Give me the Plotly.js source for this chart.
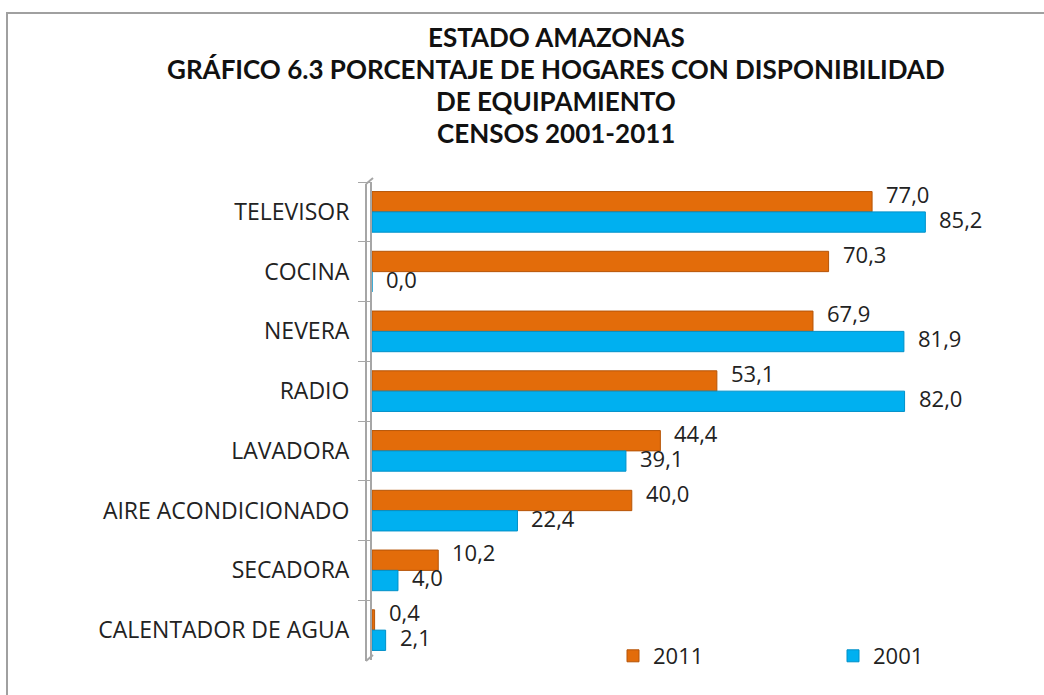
<!DOCTYPE html>
<html>
<head>
<meta charset="utf-8">
<script src="https://cdn.plot.ly/plotly-3.0.1.min.js"></script>
<style>
html,body{margin:0;padding:0;background:#fff;}
#frame{position:absolute;left:6px;top:12px;width:1100px;height:720px;border-left:2px solid #a0a0a0;border-top:2px solid #a0a0a0;box-sizing:border-box;pointer-events:none;z-index:5;}
#chart{width:1044px;height:695px;}
</style>
</head>
<body>
<div id="frame"></div>
<div id="chart"></div>
<script>
const categories = ["TELEVISOR","COCINA","NEVERA","RADIO","LAVADORA","AIRE ACONDICIONADO","SECADORA","CALENTADOR DE AGUA"];
const values2011 = [77.0, 70.3, 67.9, 53.1, 44.4, 40.0, 10.2, 0.4];
const values2001 = [85.2, 0.0, 81.9, 82.0, 39.1, 22.4, 4.0, 2.1];
const seriesNames = ["2011","2001"];
const titleLines = ["ESTADO AMAZONAS","GRÁFICO 6.3 PORCENTAJE DE HOGARES CON DISPONIBILIDAD","DE EQUIPAMIENTO","CENSOS 2001-2011"];

const fmt = v => v.toFixed(1).replace(".", ",");
const FONT = "'Open Sans', Lato, sans-serif";
const TFONT = "Lato, 'Open Sans', sans-serif";

const traces = [
  {type:"bar", orientation:"h", name:seriesNames[0], legend:"legend", y:categories, x:values2011,
   marker:{color:"#E36C0A", line:{color:"#B65508", width:1}}},
  {type:"bar", orientation:"h", name:seriesNames[1], legend:"legend2", y:categories, x:values2001,
   marker:{color:"#00B0F0", line:{color:"#0090C8", width:1}}}
];

const M = {l:372, r:55, t:182, b:35};
const W = 1044, H = 695, PW = W - M.l - M.r, PH = H - M.t - M.b;
const px = p => (p - M.l) / PW;
const py = p => (H - M.b - p) / PH;
const titleY = [37, 69, 101, 133];

const annotations = titleLines.map((t, i) => ({
  text:"<b>" + t + "</b>", xref:"paper", yref:"paper",
  x:px(556), y:py(titleY[i]), xanchor:"center", yanchor:"middle",
  showarrow:false, font:{family:TFONT, size:26, color:"#111"}
}));

// data labels, placed from the data arrays
const labelSets = [[values2011, 18], [values2001, -7]];
labelSets.forEach(([vals, dy]) => {
  vals.forEach((v, i) => {
    annotations.push({
      text:fmt(v), xref:"x", yref:"y", x:v, y:categories[i],
      xanchor:"left", yanchor:"middle", xshift:12, yshift:dy,
      showarrow:false, font:{family:FONT, size:22, color:"#222"}
    });
  });
});

const legendBase = {orientation:"h", xanchor:"left", yanchor:"middle", y:py(656),
  font:{family:FONT, size:22, color:"#222"}, itemwidth:30, bgcolor:"rgba(0,0,0,0)"};

const wallColor = "#a6a6a6";
const shapes = [
  {type:"line", xref:"paper", yref:"paper", x0:px(366), x1:px(366), y0:py(661), y1:py(184), line:{color:wallColor, width:2}, layer:"above"},
  {type:"line", xref:"paper", yref:"paper", x0:px(366), x1:px(373), y0:py(184), y1:py(178), line:{color:wallColor, width:2}, layer:"above"},
  {type:"line", xref:"paper", yref:"paper", x0:px(366), x1:px(373), y0:py(661), y1:py(655), line:{color:wallColor, width:2}, layer:"above"}
];

const layout = {
  width:W, height:H,
  margin:M,
  paper_bgcolor:"#fff", plot_bgcolor:"#fff",
  font:{family:FONT, color:"#222"},
  annotations:annotations,
  shapes:shapes,
  barmode:"group", bargap:0.32, bargroupgap:0,
  xaxis:{range:[0,95], autorange:false, showgrid:false, zeroline:false, showticklabels:false, showline:false, ticks:""},
  yaxis:{range:[categories.length - 0.5, -0.5], autorange:false, showgrid:false, zeroline:false, showline:true, linecolor:wallColor, linewidth:2,
         ticks:"outside", tickson:"boundaries", ticklen:12, tickcolor:wallColor,
         tickfont:{family:FONT, size:23, color:"#222"}, ticklabelstandoff:16},
  legend:Object.assign({}, legendBase, {x:px(613)}),
  legend2:Object.assign({}, legendBase, {x:px(833)}),
  showlegend:true
};

Plotly.newPlot("chart", traces, layout, {displayModeBar:false, staticPlot:true});
</script>
</body>
</html>
